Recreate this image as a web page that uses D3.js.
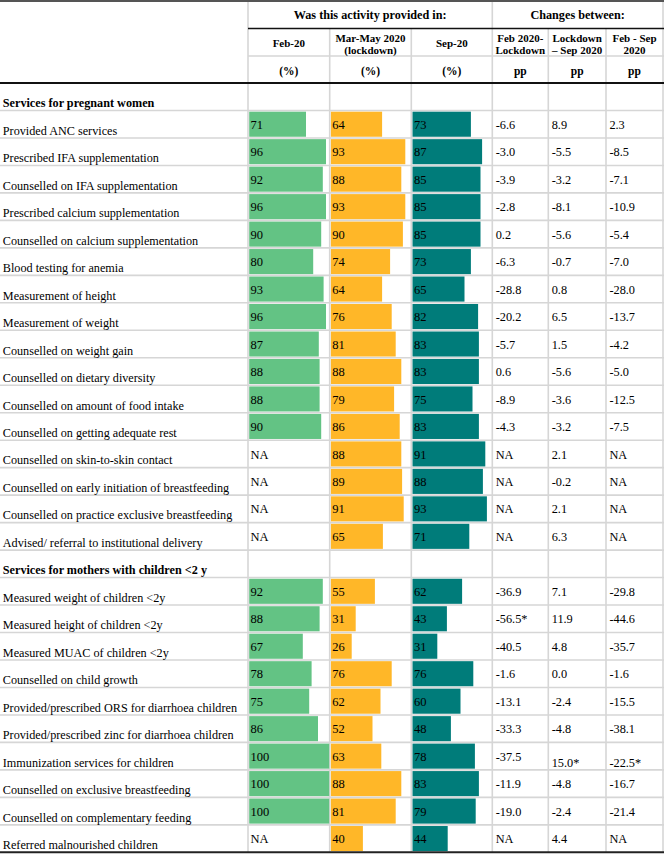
<!DOCTYPE html>
<html><head><meta charset="utf-8">
<script src="https://cdn.jsdelivr.net/npm/d3@7"></script>
<style>
html,body{margin:0;padding:0;background:#fff;}
svg{display:block;}
text{font-family:"Liberation Serif","Times New Roman",serif;fill:#000;}
</style></head>
<body><div id="chart"></div>
<script>
// ---------- DATA ----------
const sectionTitles = ["Services for pregnant women", "Services for mothers with children <2 y"];

const pregnantLabels = [
  "Provided ANC services","Prescribed IFA supplementation","Counselled on IFA supplementation",
  "Prescribed calcium supplementation","Counselled on calcium supplementation","Blood testing for anemia",
  "Measurement of height","Measurement of weight","Counselled on weight gain","Counselled on dietary diversity",
  "Counselled on amount of food intake","Counselled on getting adequate rest","Counselled on skin-to-skin contact",
  "Counselled on early initiation of breastfeeding","Counselled on practice exclusive breastfeeding",
  "Advised/ referral to institutional delivery"];
const pregnantFeb  = [71,96,92,96,90,80,93,96,87,88,88,90,null,null,null,null];
const pregnantLock = [64,93,88,93,90,74,64,76,81,88,79,86,88,89,91,65];
const pregnantSep  = [73,87,85,85,85,73,65,82,83,83,75,83,91,88,93,71];
const pregnantChgFebLock = ["-6.6","-3.0","-3.9","-2.8","0.2","-6.3","-28.8","-20.2","-5.7","0.6","-8.9","-4.3","NA","NA","NA","NA"];
const pregnantChgLockSep = ["8.9","-5.5","-3.2","-8.1","-5.6","-0.7","0.8","6.5","1.5","-5.6","-3.6","-3.2","2.1","-0.2","2.1","6.3"];
const pregnantChgFebSep  = ["2.3","-8.5","-7.1","-10.9","-5.4","-7.0","-28.0","-13.7","-4.2","-5.0","-12.5","-7.5","NA","NA","NA","NA"];

const childLabels = [
  "Measured weight of children <2y","Measured height of children <2y","Measured MUAC of children <2y",
  "Counselled on child growth","Provided/prescribed ORS for diarrhoea children",
  "Provided/prescribed zinc for diarrhoea children","Immunization services for children",
  "Counselled on exclusive breastfeeding","Counselled on complementary feeding","Referred malnourished children"];
const childFeb  = [92,88,67,78,75,86,100,100,100,null];
const childLock = [55,31,26,76,62,52,63,88,81,40];
const childSep  = [62,43,31,76,60,48,78,83,79,44];
const childChgFebLock = ["-36.9","-56.5*","-40.5","-1.6","-13.1","-33.3","-37.5","-11.9","-19.0","NA"];
const childChgLockSep = ["7.1","11.9","4.8","0.0","-2.4","-4.8","15.0*","-4.8","-2.4","4.4"];
const childChgFebSep  = ["-29.8","-44.6","-35.7","-1.6","-15.5","-38.1","-22.5*","-16.7","-21.4","NA"];

const groupHeader = ["Was this activity provided in:", "Changes between:"];
const periodHeaders = [["Feb-20"],["Mar-May 2020","(lockdown)"],["Sep-20"]];
const changeHeaders = [["Feb 2020-","Lockdown"],["Lockdown","– Sep 2020"],["Feb - Sep","2020"]];
const unitHeaders = ["(%)","(%)","(%)","pp","pp","pp"];

// ---------- BUILD ROWS ----------
const rows = [];
rows.push({type:"section", label:sectionTitles[0]});
pregnantLabels.forEach((l,i)=>rows.push({type:"data",label:l,vals:[pregnantFeb[i],pregnantLock[i],pregnantSep[i]],
  chg:[pregnantChgFebLock[i],pregnantChgLockSep[i],pregnantChgFebSep[i]]}));
rows.push({type:"section", label:sectionTitles[1]});
childLabels.forEach((l,i)=>rows.push({type:"data",label:l,vals:[childFeb[i],childLock[i],childSep[i]],
  chg:[childChgFebLock[i],childChgLockSep[i],childChgFebSep[i]]}));

// ---------- LAYOUT ----------
const W = 664, H = 854;
const colX = [248, 329.7, 411.3, 492.3, 548.3, 606, 663];
const bodyTop = 83, bodyBottom = 852.3;
const colors = ["#63c384", "#ffb728", "#007c7a"];
const gridColor = "#d6d6d6";

const svg = d3.select("#chart").append("svg").attr("width", W).attr("height", H);

const y = d3.scaleLinear().domain([0, rows.length]).range([bodyTop, bodyBottom]);
const rowH = y(1) - y(0);
const xBar = d3.scaleLinear().domain([0, 100]).range([0, 80]);

// ---------- GRID ----------
const grid = svg.append("g");
d3.range(1, rows.length).forEach(i => {
  grid.append("line").attr("x1",0).attr("x2",664).attr("y1",y(i)).attr("y2",y(i))
    .attr("stroke",gridColor).attr("stroke-width",1.6);
});
grid.append("line").attr("x1",colX[0]).attr("x2",664).attr("y1",56).attr("y2",56)
  .attr("stroke",gridColor).attr("stroke-width",1.6);
[colX[0], colX[3], colX[6]].forEach(x => grid.append("line").attr("x1",x).attr("x2",x)
  .attr("y1",0).attr("y2",bodyBottom).attr("stroke",gridColor).attr("stroke-width",1.6));
[colX[1], colX[2], colX[4], colX[5]].forEach(x => grid.append("line").attr("x1",x).attr("x2",x)
  .attr("y1",28.5).attr("y2",bodyBottom).attr("stroke",gridColor).attr("stroke-width",1.6));

// ---------- BARS ----------
const dataRows = rows.map((r,i)=>({...r, i})).filter(r => r.type === "data");
const barG = svg.append("g");
[0,1,2].forEach(c => {
  barG.selectAll(null).data(dataRows.filter(r => r.vals[c] != null)).enter().append("rect")
    .attr("x", colX[c] + 1.2)
    .attr("y", r => y(r.i) + 1.2)
    .attr("width", r => xBar(r.vals[c]))
    .attr("height", rowH - 2.4)
    .attr("fill", colors[c]);
  barG.selectAll(null).data(dataRows).enter().append("text")
    .attr("x", colX[c] + 2.6)
    .attr("y", r => y(r.i) + rowH/2 + 4.6)
    .attr("font-size", 12.5)
    .text(r => r.vals[c] == null ? "NA" : r.vals[c]);
});

// ---------- CHANGES ----------
const bottomAligned = new Set(["Immunization services for children|1","Immunization services for children|2"]);
[0,1,2].forEach(c => {
  svg.append("g").selectAll(null).data(dataRows).enter().append("text")
    .attr("x", colX[3+c] + 3.4)
    .attr("y", r => bottomAligned.has(r.label+"|"+c) ? y(r.i+1) - 3 : y(r.i) + rowH/2 + 4.6)
    .attr("font-size", 12.3)
    .text(r => r.chg[c]);
});

// ---------- ROW LABELS ----------
svg.append("g").selectAll(null).data(rows.map((r,i)=>({...r,i}))).enter().append("text")
  .attr("x", 2.8)
  .attr("y", r => y(r.i+1) - 3.2)
  .attr("font-size", 12.2)
  .attr("font-weight", r => r.type === "section" ? "bold" : "normal")
  .text(r => r.label);

// ---------- HEADERS ----------
const hdr = svg.append("g").attr("text-anchor","middle").attr("font-weight","bold");
hdr.append("text").attr("x",(colX[0]+colX[3])/2).attr("y",18.8).attr("font-size",12.2).text(groupHeader[0]);
hdr.append("text").attr("x",(colX[3]+colX[6])/2).attr("y",18.8).attr("font-size",12.2).text(groupHeader[1]);
periodHeaders.forEach((lines,c) => {
  const cx = (colX[c]+colX[c+1])/2;
  const ys = lines.length === 1 ? [47.2] : [41.6, 54.2];
  lines.forEach((t,k) => hdr.append("text").attr("x",cx).attr("y",ys[k]).attr("font-size",11).text(t));
});
changeHeaders.forEach((lines,c) => {
  const cx = (colX[3+c]+colX[4+c])/2;
  [41.6, 54.2].forEach((yy,k) => hdr.append("text").attr("x",cx).attr("y",yy).attr("font-size",11).text(lines[k]));
});
unitHeaders.forEach((t,c) => {
  hdr.append("text").attr("x",(colX[c]+colX[c+1])/2).attr("y",74.5).attr("font-size",11.5).text(t);
});

// ---------- STRONG RULES ----------
svg.append("line").attr("x1",0).attr("x2",664).attr("y1",1).attr("y2",1).attr("stroke","#555").attr("stroke-width",2);
svg.append("line").attr("x1",colX[0]).attr("x2",664).attr("y1",28.5).attr("y2",28.5).attr("stroke","#111").attr("stroke-width",1.6);
svg.append("line").attr("x1",0).attr("x2",664).attr("y1",bodyTop).attr("y2",bodyTop).attr("stroke","#111").attr("stroke-width",2);
svg.append("line").attr("x1",0).attr("x2",664).attr("y1",bodyBottom).attr("y2",bodyBottom).attr("stroke","#222").attr("stroke-width",2);
</script>
</body></html>
